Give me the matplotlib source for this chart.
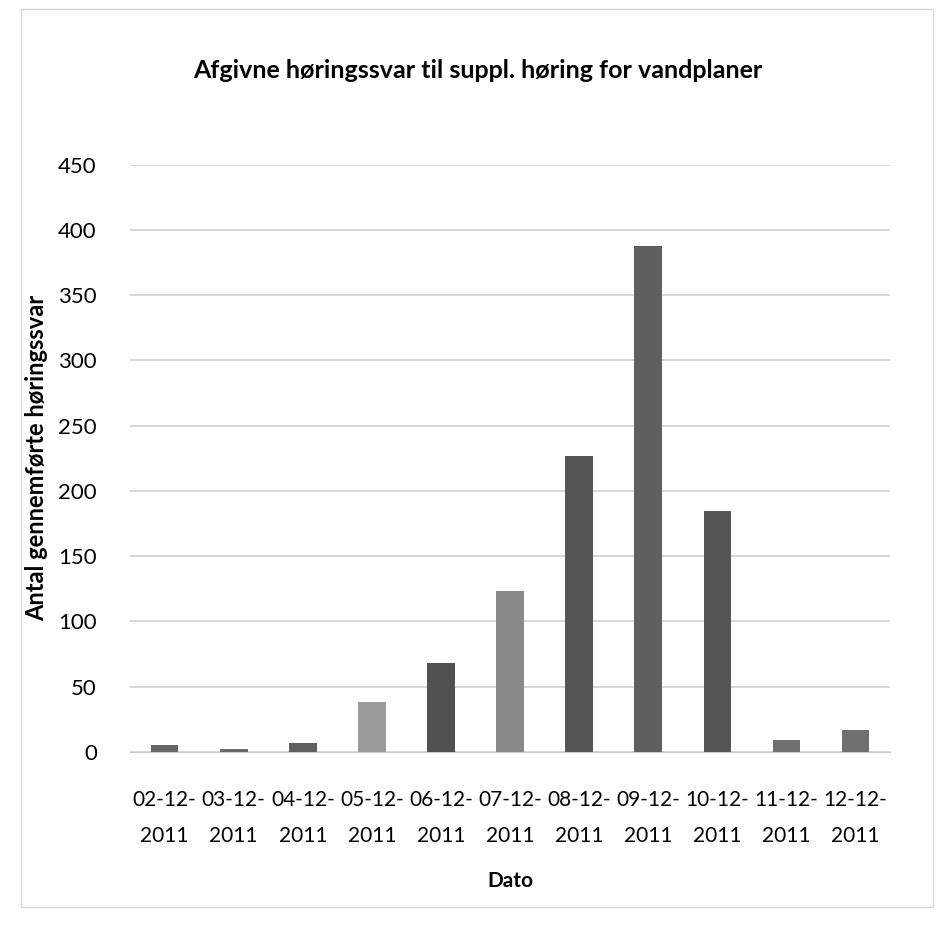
import matplotlib
matplotlib.use("Agg")
import matplotlib.pyplot as plt

dates = ["02-12-\n2011", "03-12-\n2011", "04-12-\n2011", "05-12-\n2011", "06-12-\n2011",
         "07-12-\n2011", "08-12-\n2011", "09-12-\n2011", "10-12-\n2011", "11-12-\n2011",
         "12-12-\n2011"]
values = [5, 2, 7, 38, 68, 123, 227, 388, 185, 9, 17]
colors = ["#666666", "#6a6a6a", "#606060", "#9a9a9a", "#505050", "#8a8a8a",
          "#555555", "#5f5f5f", "#555555", "#707070", "#6f6f6f"]
yticks = [0, 50, 100, 150, 200, 250, 300, 350, 400, 450]

plt.rcParams['font.family'] = ['Liberation Sans Narrow', 'Lato', 'DejaVu Sans']

fig = plt.figure(figsize=(9.36, 9.25), dpi=100)
ax = fig.add_axes([0.139, 0.187, 0.812, 0.635])
x = list(range(len(dates)))
ax.bar(x, values, width=0.4, color=colors, zorder=3)
ax.set_ylim(0, 450)
ax.set_xlim(-0.5, len(dates) - 0.5)
ax.set_yticks(yticks)
ax.set_yticklabels([str(v) for v in yticks], fontsize=16)
ax.set_xticks(x)
ax.set_xticklabels(dates, fontsize=15, linespacing=2.0)
ax.grid(axis='y', color='#d0d0d0', linewidth=1.2, zorder=0)
for s in ['top', 'right', 'left']:
    ax.spines[s].set_visible(False)
ax.spines['bottom'].set_color('#c8c8c8')
ax.tick_params(axis='y', length=0, pad=24)
ax.tick_params(axis='x', length=0, pad=27)
ax.set_xlabel("Dato", fontsize=15, fontweight='bold', labelpad=18)
ax.set_ylabel("Antal gennemførte høringssvar", fontsize=17, fontweight='bold')
ax.yaxis.set_label_coords(-0.108, 0.5)
fig.text(0.51, 0.924, "Afgivne høringssvar til suppl. høring for vandplaner",
         ha='center', va='center', fontsize=18, fontweight='bold')
fig.patches.append(plt.Rectangle((0.022, 0.02), 0.975, 0.97, transform=fig.transFigure,
                                 fill=False, edgecolor='#d8d8d8', linewidth=1))
fig.savefig("out.png", dpi=100)
